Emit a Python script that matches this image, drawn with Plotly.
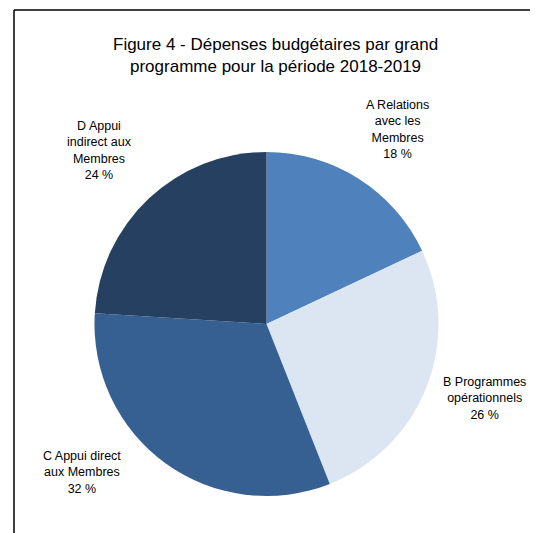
import plotly.graph_objects as go

categories = ["A Relations<br>avec les<br>Membres", "B Programmes<br>opérationnels",
              "C Appui direct<br>aux Membres", "D Appui<br>indirect aux<br>Membres"]
values = [18, 26, 32, 24]
colors = ["#4F81BD", "#DCE6F2", "#376092", "#254061"]
title_text = "Figure 4 - Dépenses budgétaires par grand<br>programme pour la période 2018-2019"

OFF = 8  # page body margin
W, H = 538 - OFF, 533 - OFF


def px(x):
    return (x - OFF) / W


def py(y):
    return 1 - (y - OFF) / H


label_pos = [(397, 130), (484, 398), (82, 472), (99, 150)]  # reference pixel centers

fig = go.Figure(go.Pie(
    labels=categories, values=values, sort=False, direction="clockwise",
    rotation=0, marker=dict(colors=colors, line=dict(width=0)),
    textinfo="none", hoverinfo="label+percent", showlegend=False,
    domain=dict(x=[px(93), px(440)], y=[py(496), py(152)]),
))

annotations = []
for cat, v, (lx, ly) in zip(categories, values, label_pos):
    annotations.append(dict(
        text=f"{cat}<br>{v} %", x=px(lx), y=py(ly), xref="paper", yref="paper",
        xanchor="center", yanchor="middle", showarrow=False, align="center",
        font=dict(family="Liberation Sans, Arial", size=12.5, color="#000000"),
    ))
annotations.append(dict(
    text=title_text, x=px(275), y=py(56), xref="paper", yref="paper",
    xanchor="center", yanchor="middle", showarrow=False, align="center",
    font=dict(family="Liberation Sans, Arial", size=17, color="#000000"),
))

fig.update_layout(
    width=W, height=H, margin=dict(l=0, r=0, t=0, b=0),
    paper_bgcolor="white", plot_bgcolor="white",
    annotations=annotations,
    shapes=[
        dict(type="line", xref="paper", yref="paper", x0=px(14), x1=1, y0=py(10), y1=py(10),
             line=dict(color="black", width=1.5)),
        dict(type="line", xref="paper", yref="paper", x0=px(14), x1=px(14), y0=0, y1=py(10),
             line=dict(color="black", width=1.5)),
    ],
)
fig.write_html("out.html")
